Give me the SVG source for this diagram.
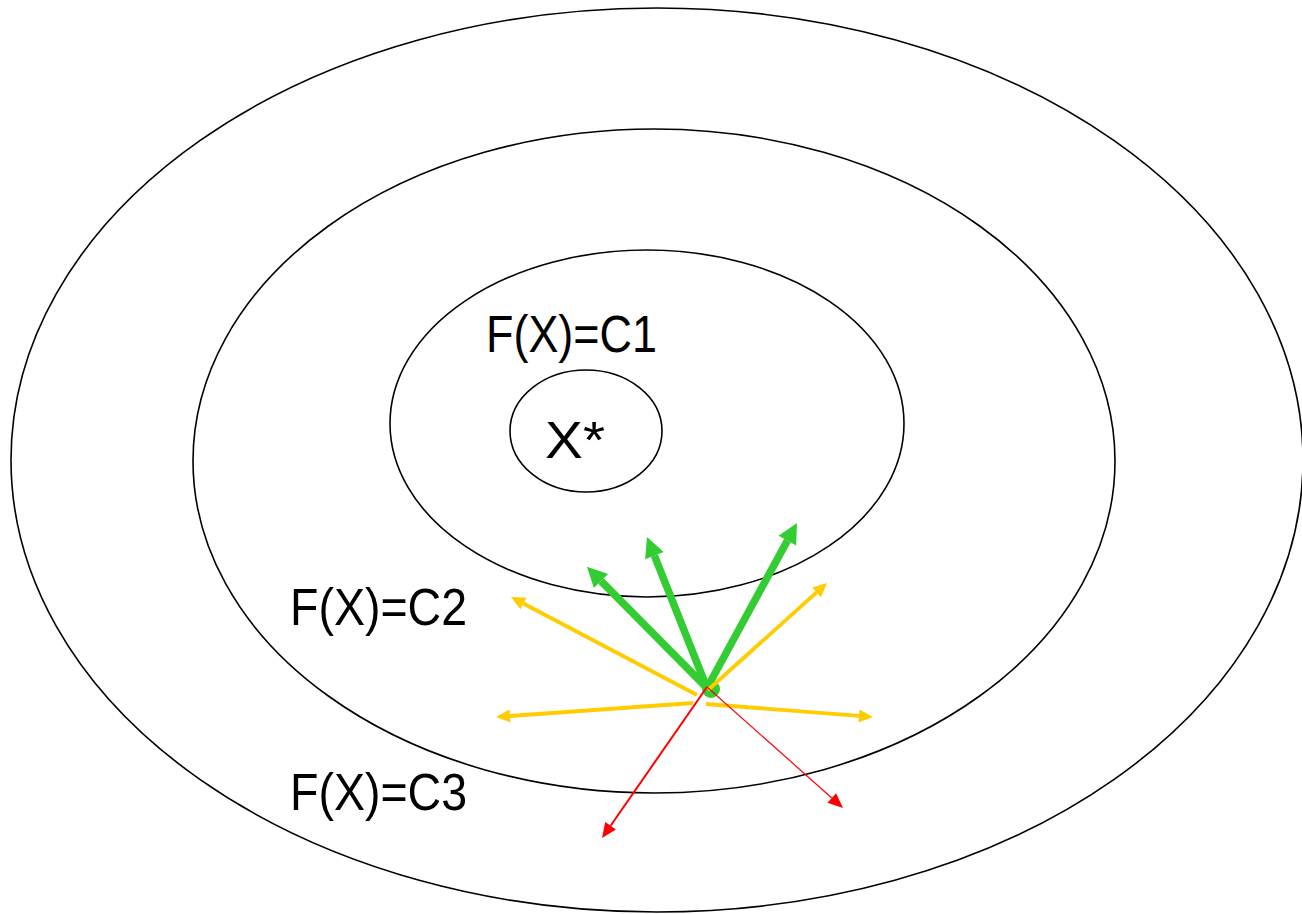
<svg xmlns="http://www.w3.org/2000/svg" width="1302" height="914" viewBox="0 0 1302 914">
<style>
.ring{fill:none;stroke:#000;stroke-width:1.6}
.lbl{font-family:"Liberation Sans",Arial,sans-serif;font-size:51px;fill:#000}
.g{stroke:#33cc33;stroke-width:7.5;fill:none;marker-end:url(#mg)}
.y{stroke:#ffcc00;stroke-width:3.8;fill:none;marker-end:url(#my)}
.r{stroke:#ff0000;fill:none;marker-end:url(#mr)}
</style>
<defs>
<marker id="mg" markerUnits="userSpaceOnUse" markerWidth="30" markerHeight="30" refX="0" refY="10" orient="auto" overflow="visible"><path d="M0,0 L20,10 L0,20 z" fill="#33cc33"/></marker>
<marker id="my" markerUnits="userSpaceOnUse" markerWidth="20" markerHeight="20" refX="0" refY="6.5" orient="auto" overflow="visible"><path d="M0,0 L14,6.5 L0,13 z" fill="#ffcc00"/></marker>
<marker id="mr" markerUnits="userSpaceOnUse" markerWidth="20" markerHeight="20" refX="0" refY="6.5" orient="auto" overflow="visible"><path d="M0,0 L15,6.5 L0,13 z" fill="#ff0000"/></marker>
</defs>
<rect width="1302" height="914" fill="#fff"/>
<g id="c3"><ellipse class="ring" cx="657" cy="460" rx="646" ry="452"/></g>
<g id="c2"><ellipse class="ring" cx="654" cy="461" rx="461" ry="332"/></g>
<g id="c1"><ellipse class="ring" cx="647" cy="423.5" rx="257" ry="173.5"/></g>
<g id="xstar"><ellipse class="ring" cx="586" cy="431" rx="76" ry="61"/>
<text class="lbl" x="545" y="458" textLength="60" lengthAdjust="spacingAndGlyphs">X*</text></g>
<g id="labels">
<text class="lbl" x="486" y="352" textLength="171" lengthAdjust="spacingAndGlyphs">F(X)=C1</text>
<text class="lbl" x="290" y="625" textLength="177" lengthAdjust="spacingAndGlyphs">F(X)=C2</text>
<text class="lbl" x="290" y="810" textLength="177" lengthAdjust="spacingAndGlyphs">F(X)=C3</text>
</g>
<g id="connectors">
<circle cx="711" cy="689" r="9" fill="#33cc33"/>
<line class="g" x1="707" y1="688" x2="601" y2="581"/>
<line class="g" x1="707" y1="688" x2="654.4" y2="555.6"/>
<line class="g" x1="707" y1="688" x2="787.4" y2="540.6"/>
<line class="y" x1="697" y1="695" x2="523.4" y2="603.5"/>
<line class="y" x1="708" y1="690" x2="816.6" y2="592.4"/>
<line class="y" x1="693" y1="703" x2="510" y2="716"/>
<line class="y" x1="706" y1="704" x2="859" y2="715.9"/>
<line class="r" stroke-width="2" x1="707" y1="687" x2="610.6" y2="825.7"/>
<line class="r" stroke-width="1.2" x1="707" y1="687" x2="831.8" y2="798"/>
</g>
</svg>
